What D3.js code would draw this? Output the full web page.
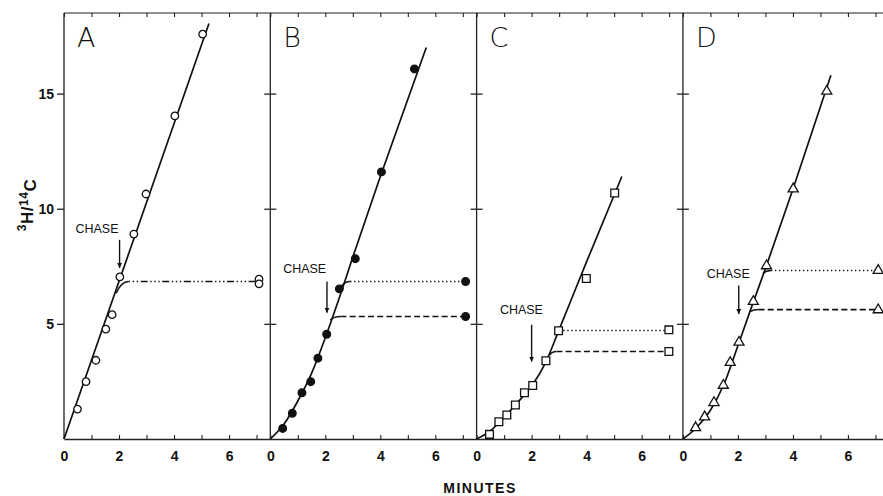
<!DOCTYPE html>
<meta charset="utf-8">
<script src="https://d3js.org/d3.v7.min.js"></script>
<style>
  body { margin: 0; background: #fff; }
  svg { display: block; }
  .tick text { font-family: "Liberation Sans", Arial, sans-serif; font-weight: bold; font-size: 14px; fill: #111; }
  .chase { font-family: "Liberation Sans", Arial, sans-serif; font-size: 13px; fill: #111; }
</style>
<body>
<div id="chart"></div>
<script>
// ---- data ----
var panelLetters = ["A", "B", "C", "D"];
var xTicks = [0, 1, 2, 3, 4, 5, 6, 7];
var xLabels = [0, 2, 4, 6];
var yTicks = [5, 10, 15];

// measured points (minutes, 3H/14C)
var pointsA = [[0.49,1.30],[0.80,2.49],[1.16,3.42],[1.52,4.77],[1.75,5.40],[2.03,7.04],[2.54,8.90],[2.98,10.64],[4.03,14.03],[5.04,17.58],[7.09,6.94],[7.09,6.74]];
var pointsB = [[0.45,0.46],[0.80,1.12],[1.15,2.01],[1.47,2.49],[1.73,3.51],[2.05,4.55],[2.51,6.52],[3.09,7.83],[4.04,11.6],[5.24,16.07],[7.10,6.84],[7.10,5.32]];
var pointsC = [[0.47,0.20],[0.81,0.75],[1.10,1.04],[1.41,1.48],[1.74,2.01],[2.04,2.32],[2.52,3.40],[2.98,4.70],[3.99,6.97],[5.02,10.68],[6.99,4.74],[6.99,3.80]];
var pointsD = [[0.46,0.49],[0.79,0.96],[1.13,1.58],[1.47,2.33],[1.72,3.32],[2.04,4.20],[2.56,5.97],[3.04,7.52],[4.01,10.86],[5.23,15.10],[7.10,7.32],[7.10,5.61]];

// drawn uptake curves
var fitA = [[0,0],[5.27,18.04]];
var fitB = [[0,0],[0.5,0.65],[1,1.65],[1.5,2.85],[2,4.4],[2.5,6.1],[3,7.9],[4,11.4],[5.67,17.0]];
var fitC = [[0,0],[0.5,0.35],[1,0.95],[1.5,1.6],[2,2.3],[2.5,3.3],[3,4.75],[4,7.7],[5.28,11.4]];
var fitD = [[0,0],[0.5,0.5],[1,1.25],[1.5,2.4],[2,4.05],[2.5,5.75],[3,7.4],[4,10.85],[5.38,15.8]];

// plateaus after the chase: [branchX, branchY, flatStartX, level, endX]
var plateausA = [[1.9,6.33,2.35,6.84,7.02]];
var plateausB = [[2.58,6.62,2.9,6.84,7.02],[2.18,5.17,2.55,5.32,7.02]];
var plateausC = [[2.98,4.62,3.15,4.71,6.92],[2.65,3.65,2.9,3.80,6.92]];
var plateausD = [[2.91,7.2,3.2,7.32,7.02],[2.44,5.53,2.75,5.62,7.02]];

// CHASE label [x, y] and arrow [x, yFrom, yTo]
var chaseLabels = [[1.2,8.96],[1.25,7.2],[1.63,5.43],[1.65,7.0]];
var chaseArrows = [[2.02,8.65,7.43],[2.06,6.84,5.48],[2.0,4.96,3.36],[2.03,6.67,5.43]];

var allPoints = [pointsA, pointsB, pointsC, pointsD];
var allFits = [fitA, fitB, fitC, fitD];
var allPlateaus = [plateausA, plateausB, plateausC, plateausD];

// ---- layout ----
var width = 883, height = 496;
var margin = { top: 13, left: 64, bottom: 57 };
var panelW = 206.3;
var plotBottom = height - margin.bottom;   // 439

var svg = d3.select("#chart").append("svg")
    .attr("width", width)
    .attr("height", height);

svg.append("defs").append("marker")
    .attr("id", "arrow")
    .attr("viewBox", "0 0 10 10")
    .attr("refX", 10).attr("refY", 5)
    .attr("markerWidth", 5).attr("markerHeight", 6)
    .attr("markerUnits", "userSpaceOnUse")
    .attr("orient", "auto")
  .append("path")
    .attr("d", "M0,0L10,5L0,10z")
    .attr("fill", "#111");

var x = d3.scaleLinear().domain([0, 7.5]).range([0, panelW]);
var y = d3.scaleLinear().domain([0, 18.5]).range([plotBottom, margin.top]);

var lineGen = d3.line().x(function(d) { return x(d[0]); }).y(function(d) { return y(d[1]); });
var smoothLine = d3.line().curve(d3.curveMonotoneX).x(function(d) { return x(d[0]); }).y(function(d) { return y(d[1]); });

var symbolTypes = [d3.symbolCircle, d3.symbolCircle, d3.symbolSquare, d3.symbolTriangle];
var symbolSizes = [44, 46, 60, 44];
var symbolFills = ["#fff", "#111", "#fff", "#fff"];
var dashTop = ["1.4,2.6,1.4,2.6,1.4,2.6,7,2.6", "1.4,2.6"];
var dashLow = "6,3.2";

// top frame line runs across all panels
svg.append("line")
    .attr("x1", margin.left).attr("x2", width)
    .attr("y1", margin.top).attr("y2", margin.top)
    .attr("stroke", "#222").attr("stroke-width", 1.1);

panelLetters.forEach(function(letter, i) {
  var g = svg.append("g")
      .attr("transform", "translate(" + (margin.left + i * panelW) + ",0)");

  // bottom axis
  var xb = g.append("g")
      .attr("transform", "translate(0," + plotBottom + ")")
      .call(d3.axisBottom(x).tickValues(xTicks).tickSize(-4).tickSizeOuter(0).tickPadding(12)
        .tickFormat(function(d) { return xLabels.indexOf(d) >= 0 ? d : ""; }));
  xb.select(".domain").attr("stroke", "#222").attr("stroke-width", 1.3);
  xb.selectAll(".tick line").attr("stroke", "#222").attr("stroke-width", 1.1);

  // top ticks
  var xt = g.append("g")
      .attr("transform", "translate(0," + margin.top + ")")
      .call(d3.axisTop(x).tickValues(xTicks).tickSize(-4).tickSizeOuter(0).tickFormat(""));
  xt.select(".domain").remove();
  xt.selectAll(".tick line").attr("stroke", "#222").attr("stroke-width", 1.1);

  // left border of the panel
  g.append("line")
      .attr("x1", 0).attr("x2", 0)
      .attr("y1", margin.top).attr("y2", plotBottom)
      .attr("stroke", "#222").attr("stroke-width", 1.3);

  if (i === 0) {
    var ya = g.append("g")
        .call(d3.axisLeft(y).tickValues(yTicks).tickSize(7).tickPadding(3));
    ya.select(".domain").remove();
    ya.selectAll(".tick line").attr("stroke", "#222").attr("stroke-width", 1.3);
  } else {
    [d3.axisLeft(y), d3.axisRight(y)].forEach(function(ax) {
      var yg = g.append("g").call(ax.tickValues(yTicks).tickSize(6).tickFormat(""));
      yg.select(".domain").remove();
      yg.selectAll(".tick line").attr("stroke", "#222").attr("stroke-width", 1.3);
    });
  }

  // panel letter
  g.append("text")
      .attr("x", 13).attr("y", 47)
      .style("font-family", "'DejaVu Sans', sans-serif")
      .style("font-weight", 200)
      .style("font-size", "27px")
      .style("fill", "#111")
      .text(letter);

  // uptake curve
  g.append("path")
      .datum(allFits[i])
      .attr("d", i === 0 ? lineGen : smoothLine)
      .attr("fill", "none")
      .attr("stroke", "#111")
      .attr("stroke-width", 1.7);

  // plateaus: solid hook then dotted / dashed level
  allPlateaus[i].forEach(function(p, k) {
    var hook = d3.path();
    hook.moveTo(x(p[0]), y(p[1]));
    hook.quadraticCurveTo(x(p[0] + (p[2] - p[0]) * 0.4), y(p[3]), x(p[2]), y(p[3]));
    g.append("path")
        .attr("d", hook.toString())
        .attr("fill", "none").attr("stroke", "#111").attr("stroke-width", 1.5);
    g.append("path")
        .datum([[p[2], p[3]], [p[4], p[3]]])
        .attr("d", lineGen)
        .attr("fill", "none").attr("stroke", "#111")
        .attr("stroke-width", k === 0 ? 1.5 : 1.6)
        .attr("stroke-dasharray", k === 0 ? dashTop[i === 0 ? 0 : 1] : dashLow);
  });

  // points
  g.selectAll(".pt")
      .data(allPoints[i])
      .enter().append("path")
      .attr("class", "pt")
      .attr("transform", function(d) { return "translate(" + x(d[0]) + "," + y(d[1]) + ")"; })
      .attr("d", d3.symbol().type(symbolTypes[i]).size(symbolSizes[i]))
      .attr("fill", symbolFills[i])
      .attr("stroke", "#111")
      .attr("stroke-width", 1.3);

  // CHASE annotation
  g.append("text")
      .attr("class", "chase")
      .attr("x", x(chaseLabels[i][0])).attr("y", y(chaseLabels[i][1]))
      .attr("text-anchor", "middle")
      .attr("textLength", 43)
      .attr("lengthAdjust", "spacingAndGlyphs")
      .text("CHASE");

  var a = chaseArrows[i];
  g.append("line")
      .attr("x1", x(a[0])).attr("x2", x(a[0]))
      .attr("y1", y(a[1])).attr("y2", y(a[2]))
      .attr("stroke", "#111").attr("stroke-width", 1.4)
      .attr("marker-end", "url(#arrow)");
});

// x label
svg.append("text")
    .attr("x", 480).attr("y", 493)
    .attr("text-anchor", "middle")
    .style("font-family", "'Liberation Sans', Arial, sans-serif")
    .style("font-weight", "bold")
    .style("font-size", "14px")
    .style("letter-spacing", "1.5px")
    .style("fill", "#111")
    .text("MINUTES");

// y label 3H/14C
var yl = svg.append("text")
    .attr("transform", "translate(31,205) rotate(-90)")
    .attr("text-anchor", "middle")
    .style("font-family", "'Liberation Sans', Arial, sans-serif")
    .style("font-weight", "bold")
    .style("font-size", "17px")
    .style("letter-spacing", "0.5px")
    .style("fill", "#111");
yl.append("tspan").attr("dy", "-0.45em").style("font-size", "12px").text("3");
yl.append("tspan").attr("dy", "0.45em").text("H");
yl.append("tspan").text("/");
yl.append("tspan").attr("dy", "-0.45em").style("font-size", "12px").text("14");
yl.append("tspan").attr("dy", "0.45em").text("C");
</script>
</body>
